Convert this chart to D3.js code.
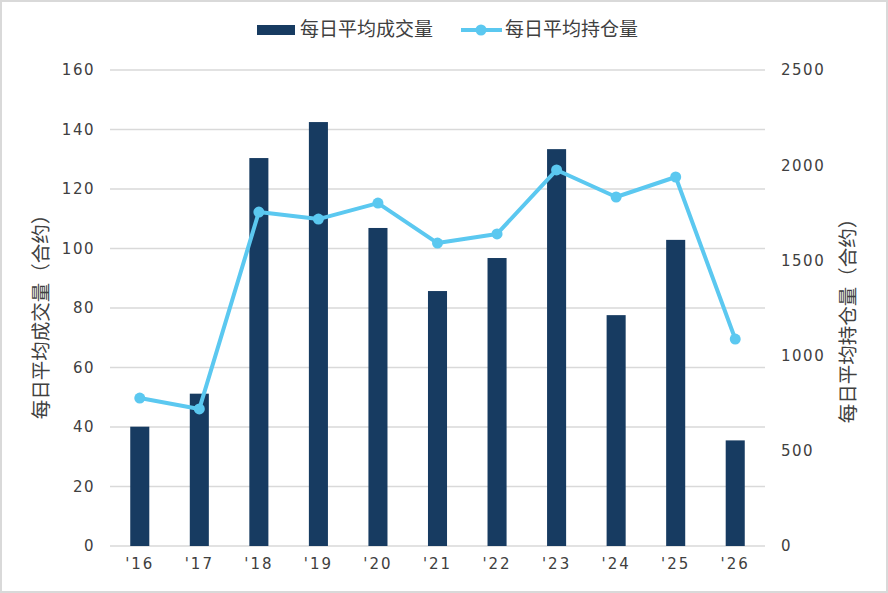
<!DOCTYPE html>
<html>
<head>
<meta charset="utf-8">
<script src="https://cdn.jsdelivr.net/npm/d3@7"></script>
<style>
  body { margin: 0; background: #fff; }
  svg text { font-family: "DejaVu Sans", "Noto Sans CJK SC", sans-serif; fill: #404040; }
</style>
</head>
<body>
<svg id="chart" width="888" height="593"></svg>
<script>
const years = ["'16", "'17", "'18", "'19", "'20", "'21", "'22", "'23", "'24", "'25", "'26"]
const volume = [40.1, 51.2, 130.4, 142.5, 106.9, 85.7, 96.8, 133.4, 77.6, 102.9, 35.5]
const openInterest = [777, 720, 1754, 1717, 1801, 1591, 1639, 1975, 1833, 1938, 1087]
const leftTicks = [0, 20, 40, 60, 80, 100, 120, 140, 160]
const rightTicks = [0, 500, 1000, 1500, 2000, 2500]

const barColor = "#173b61"
const lineColor = "#5bc8f0"
const textColor = "#404040"
const cjk = "'Noto Sans CJK SC', sans-serif"

let svg = d3.select("#chart")

svg.append("rect")
   .attr("x", 1).attr("y", 1)
   .attr("width", 886).attr("height", 591)
   .attr("fill", "#fff")
   .attr("stroke", "#d9d9d9")
   .attr("stroke-width", 2)

const plotLeft = 110, plotRight = 765, plotTop = 70, plotBottom = 546

let x = d3.scaleBand()
          .domain(years)
          .range([plotLeft, plotRight])
          .paddingInner(0.68)
          .paddingOuter(0.34)

let yL = d3.scaleLinear().domain([0, 160]).range([plotBottom, plotTop])
let yR = d3.scaleLinear().domain([0, 2500]).range([plotBottom, plotTop])

// gridlines
svg.append("g")
   .selectAll("line")
   .data(leftTicks)
   .enter()
   .append("line")
   .attr("x1", plotLeft).attr("x2", plotRight)
   .attr("y1", (d) => yL(d)).attr("y2", (d) => yL(d))
   .attr("stroke", "#d9d9d9")
   .attr("stroke-width", 1.5)

// left axis
let axisL = svg.append("g")
               .attr("transform", "translate(" + (plotLeft - 15) + ",0)")
               .call(d3.axisLeft(yL).tickValues(leftTicks).tickSize(0).tickPadding(0))
axisL.select(".domain").remove()
axisL.selectAll("text")
     .style("font-size", "15px")
     .style("letter-spacing", "1.5px")
     .attr("fill", textColor)

// right axis
let axisR = svg.append("g")
               .attr("transform", "translate(781,0)")
               .call(d3.axisRight(yR).tickValues(rightTicks).tickFormat(d3.format("d")).tickSize(0).tickPadding(0))
axisR.select(".domain").remove()
axisR.selectAll("text")
     .style("font-size", "15px")
     .style("letter-spacing", "1.5px")
     .attr("fill", textColor)

// x axis
let axisX = svg.append("g")
               .attr("transform", "translate(0," + (plotBottom + 12) + ")")
               .call(d3.axisBottom(x).tickSize(0).tickPadding(0))
axisX.select(".domain").remove()
axisX.selectAll("text")
     .style("font-size", "15px")
     .style("letter-spacing", "2px")
     .attr("fill", textColor)

// bars
svg.append("g")
   .selectAll("rect")
   .data(volume)
   .enter()
   .append("rect")
   .attr("x", (d, i) => x(years[i]))
   .attr("y", (d) => yL(d))
   .attr("width", x.bandwidth())
   .attr("height", (d) => plotBottom - yL(d))
   .attr("fill", barColor)

// line
let line = d3.line()
             .x((d, i) => x(years[i]) + x.bandwidth() / 2)
             .y((d) => yR(d))

svg.append("path")
   .datum(openInterest)
   .attr("d", line)
   .attr("fill", "none")
   .attr("stroke", lineColor)
   .attr("stroke-width", 4)
   .attr("stroke-linejoin", "round")

svg.append("g")
   .selectAll("circle")
   .data(openInterest)
   .enter()
   .append("circle")
   .attr("cx", (d, i) => x(years[i]) + x.bandwidth() / 2)
   .attr("cy", (d) => yR(d))
   .attr("r", 5.5)
   .attr("fill", lineColor)

// axis titles
svg.append("text")
   .attr("transform", "translate(48,312) rotate(-90)")
   .attr("text-anchor", "middle")
   .attr("fill", textColor)
   .style("font-family", cjk)
   .style("font-size", "19.5px")
   .text("每日平均成交量（合约）")

svg.append("text")
   .attr("transform", "translate(855,316) rotate(-90)")
   .attr("text-anchor", "middle")
   .attr("fill", textColor)
   .style("font-family", cjk)
   .style("font-size", "19.5px")
   .text("每日平均持仓量（合约）")

// legend
let legend = svg.append("g")
legend.append("rect")
      .attr("x", 257).attr("y", 25)
      .attr("width", 38).attr("height", 10)
      .attr("fill", barColor)
legend.append("text")
      .attr("x", 300).attr("y", 36)
      .attr("fill", textColor)
      .style("font-family", cjk)
      .style("font-size", "19px")
      .text("每日平均成交量")
legend.append("line")
      .attr("x1", 461).attr("x2", 502)
      .attr("y1", 30).attr("y2", 30)
      .attr("stroke", lineColor)
      .attr("stroke-width", 4)
legend.append("circle")
      .attr("cx", 481).attr("cy", 30)
      .attr("r", 5.5)
      .attr("fill", lineColor)
legend.append("text")
      .attr("x", 505).attr("y", 36)
      .attr("fill", textColor)
      .style("font-family", cjk)
      .style("font-size", "19px")
      .text("每日平均持仓量")
</script>
</body>
</html>
